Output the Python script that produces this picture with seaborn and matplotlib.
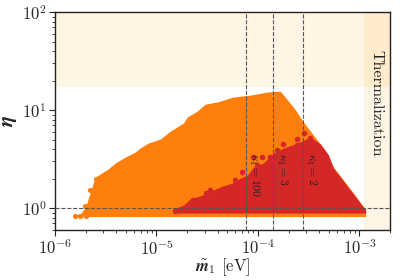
import numpy as np
import pandas as pd
import matplotlib
matplotlib.use("Agg")
import matplotlib.pyplot as plt
import seaborn as sns

# ---- data ----
orange_m1 = [1.57e-6, 1.77e-6, 2.02e-6, 2.15e-6, 2.30e-6, 2.48e-6, 3.33e-6, 3.91e-6,
             4.91e-6, 6.17e-6, 6.90e-6, 8.28e-6, 1.09e-5, 1.37e-5, 1.84e-5, 2.01e-5,
             2.52e-5, 3.03e-5, 3.97e-5, 5.71e-5, 8.41e-5, 1.24e-4, 1.66e-4, 2.24e-4,
             2.81e-4, 3.52e-4, 4.42e-4, 5.55e-4, 6.97e-4, 8.74e-4, 1.07e-3, 1.15e-3]
orange_eta_hi = [0.86, 0.86, 1.05, 1.30, 1.60, 2.07, 2.50, 2.88,
                 3.31, 3.73, 4.10, 4.61, 5.06, 6.10, 7.37, 8.49,
                 9.77, 11.5, 12.1, 13.6, 14.2, 15.3, 15.6, 10.7,
                 7.55, 5.56, 4.10, 2.62, 1.93, 1.42, 1.07, 0.98]
orange_eta_lo = [0.82] * len(orange_m1)

red_m1 = [1.46e-5, 1.84e-5, 2.15e-5, 2.83e-5, 3.63e-5, 4.45e-5, 5.59e-5, 6.70e-5,
          7.86e-5, 9.01e-5, 1.13e-4, 1.42e-4, 1.78e-4, 2.45e-4, 3.29e-4, 4.13e-4,
          4.95e-4, 5.55e-4, 6.97e-4, 8.74e-4, 1.07e-3, 1.15e-3]
red_eta_hi = [0.98, 1.07, 1.24, 1.36, 1.53, 1.68, 1.80, 2.02,
              2.17, 2.62, 2.88, 3.64, 4.10, 4.61, 5.30, 4.50,
              3.50, 2.55, 1.88, 1.39, 1.05, 0.97]
red_eta_lo = [0.89] * len(red_m1)

red_dot_m1 = [1.53e-5, 2.30e-5, 3.10e-5, 3.39e-5, 5.98e-5, 7.02e-5, 9.01e-5, 9.87e-5,
              1.10e-4, 1.32e-4, 1.55e-4, 1.78e-4, 2.09e-4, 2.45e-4, 2.45e-4, 2.87e-4, 3.29e-4]
red_dot_eta = [0.93, 1.21, 1.42, 1.53, 1.93, 2.33, 3.31, 2.75,
               3.31, 3.31, 3.91, 4.50, 3.91, 5.06, 4.40, 5.82, 5.18]

orange_dot_m1 = [1.57e-6, 1.77e-6, 2.02e-6, 1.98e-6, 2.22e-6, 2.54e-6]
orange_dot_eta = [0.83, 0.83, 0.83, 1.05, 1.53, 1.98]

kappa_lines = [7.7e-5, 1.42e-4, 2.8e-4]
kappa_labels = [r"$\kappa_1 = 100$", r"$\kappa_1 = 3$", r"$\kappa_1 = 2$"]
kappa_label_x = [9.2e-5, 1.74e-4, 3.36e-4]
kappa_label_y = [2.17, 2.5, 2.5]

eta_excluded = 17.0
m1_therm = 1.1e-3
xlim = (1e-6, 2e-3)
ylim = (0.6, 100)

# ---- style ----
sns.set_style("ticks")
plt.rcParams["font.family"] = ["serif"]
plt.rcParams["font.serif"] = ["cmr10", "DejaVu Serif"]
plt.rcParams["mathtext.fontset"] = "cm"
plt.rcParams["axes.formatter.use_mathtext"] = True
plt.rcParams["axes.unicode_minus"] = False

fig = plt.figure(figsize=(4.0, 2.8), dpi=100)
ax = fig.add_axes([0.1375, 0.179, 0.8375, 0.778])
ax.set_xscale("log")
ax.set_yscale("log")

ax.axhspan(eta_excluded, ylim[1], color="orange", alpha=0.1, lw=0, zorder=0)
ax.axvspan(m1_therm, xlim[1], color="orange", alpha=0.1, lw=0, zorder=0)

ax.fill_between(orange_m1, orange_eta_lo, orange_eta_hi, color="#ff7f0e", lw=0, zorder=2)
ax.fill_between(red_m1, red_eta_lo, red_eta_hi, color="#d62728", lw=0, zorder=3)

dots_o = pd.DataFrame({"m1": orange_dot_m1, "eta": orange_dot_eta})
dots_r = pd.DataFrame({"m1": red_dot_m1, "eta": red_dot_eta})
sns.scatterplot(data=dots_o, x="m1", y="eta", color="#ff7f0e", s=14, linewidth=0, ax=ax, zorder=2)
sns.scatterplot(data=dots_r, x="m1", y="eta", color="#d62728", s=16, linewidth=0, ax=ax, zorder=3)

for xv in kappa_lines:
    ax.axvline(xv, color="#555555", ls="--", lw=0.8, zorder=4)
ax.axhline(1.0, color="#555555", ls="--", lw=0.8, zorder=4)

for xv, yv, lab in zip(kappa_label_x, kappa_label_y, kappa_labels):
    ax.text(xv, yv, lab, rotation=-90, ha="center", va="center", fontsize=8.5,
            color="#222222", zorder=5)

ax.text(1.45e-3, 11.8, "Thermalization", rotation=-90, ha="center", va="center",
        fontsize=11.5, color="#222222", zorder=5)

ax.set_xlim(*xlim)
ax.set_ylim(*ylim)
ax.set_xlabel(r"$\tilde{\mathbfit{m}}_{\mathbf{1}}$ [eV]", fontsize=12, labelpad=-1)
ax.set_ylabel(r"$\boldsymbol{\eta}$", fontsize=15, labelpad=2)
ax.tick_params(axis="both", which="major", labelsize=12, length=4, direction="out", pad=2)
ax.tick_params(axis="both", which="minor", length=2, direction="out")
for s in ax.spines.values():
    s.set_color("#222222")
    s.set_linewidth(1.0)

fig.savefig("out.png", dpi=100)
